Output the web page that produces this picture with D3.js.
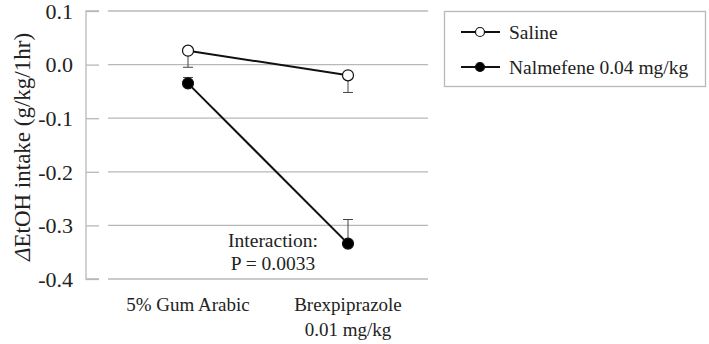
<!DOCTYPE html>
<html><head><meta charset="utf-8">
<script src="https://cdn.jsdelivr.net/npm/d3@7"></script>
<style>body{margin:0;background:#fff}svg{display:block}</style>
</head><body><svg id="c" width="709" height="344"></svg>
<script>
const categories = ["5% Gum Arabic", "Brexpiprazole|0.01 mg/kg"];
const seriesNames = ["Saline", "Nalmefene 0.04 mg/kg"];
const salineMean = [0.026, -0.020];
const salineSem = [0.031, 0.032];
const nalmefeneMean = [-0.035, -0.334];
const nalmefeneSem = [0.011, 0.045];
const yTicks = [0.1, 0.0, -0.1, -0.2, -0.3, -0.4];
const yTitle = "EtOH intake (g/kg/1hr)";
const annotation = ["Interaction:", "P = 0.0033"];

(function () {
const FONT = "'Liberation Serif', 'Times New Roman', Times, 'DejaVu Serif', serif";
const svg = d3.select("#c").attr("font-family", FONT);
const pl = 86, pr = 428, pt = 11, pb = 279;
const y = d3.scaleLinear().domain([-0.4, 0.1]).range([pb, pt]);
const x = d3.scalePoint().domain(categories).range([pl + 102, pr - 80]);
const grey = "#b8b8b8";
const txt = (sel) => sel.attr("font-family", FONT).attr("fill", "#222");

// gridlines
svg.append("g").selectAll("line").data(yTicks).join("line")
  .attr("x1", pl + 22).attr("x2", pr)
  .attr("y1", d => y(d)).attr("y2", d => y(d))
  .attr("stroke", grey).attr("stroke-width", 1.3);
// axis with ticks
const ax = svg.append("g").attr("transform", `translate(${pl},0)`)
  .call(d3.axisRight(y).tickValues(yTicks).tickSize(13).tickFormat(""));
ax.select(".domain").attr("stroke", grey).attr("stroke-width", 1.3).attr("d", `M13,${pt}H0V${pb}H13`);
ax.selectAll(".tick line").attr("stroke", grey).attr("stroke-width", 1.3);
// tick labels
svg.append("g").selectAll("text").data(yTicks).join("text")
  .call(txt)
  .attr("x", 73).attr("y", d => y(d)).attr("dy", "0.35em")
  .attr("text-anchor", "end").attr("font-size", 22)
  .text(d => d3.format(".1f")(d).replace("\u2212", "-"));

// y title
const yt = svg.append("text").call(txt).attr("transform", `translate(30,147) rotate(-90)`)
  .attr("text-anchor", "middle").attr("font-size", 23);
yt.append("tspan").attr("font-style", "italic").text("\u0394");
yt.append("tspan").text(yTitle);

// category labels
categories.forEach(c => {
  const parts = c.split("|");
  const t = svg.append("text").call(txt).attr("text-anchor", "middle").attr("font-size", 19);
  parts.forEach((p, i) => t.append("tspan").attr("x", x(c)).attr("y", 311 + i * 25).text(p));
});

// annotation
annotation.forEach((a, i) => svg.append("text").call(txt).attr("x", 273).attr("y", 247 + i * 23)
  .attr("text-anchor", "middle").attr("font-size", 19.5).text(a));

const series = [
  {name: seriesNames[0], mean: salineMean, sem: salineSem, fill: "#fff", dir: -1},
  {name: seriesNames[1], mean: nalmefeneMean, sem: nalmefeneSem, fill: "#000", dir: 1}
];
const line = d3.line().x((d, i) => x(categories[i])).y(d => y(d));
series.forEach(s => {
  const g = svg.append("g");
  s.mean.forEach((m, i) => {
    const cx = x(categories[i]);
    const end = y(m + s.dir * s.sem[i]);
    g.append("line").attr("x1", cx).attr("x2", cx).attr("y1", y(m)).attr("y2", end).attr("stroke", "#444").attr("stroke-width", 1);
    g.append("line").attr("x1", cx - 5).attr("x2", cx + 5).attr("y1", end).attr("y2", end).attr("stroke", "#444").attr("stroke-width", 1);
  });
  g.append("path").attr("d", line(s.mean)).attr("fill", "none").attr("stroke", "#111").attr("stroke-width", 2);
  g.selectAll("circle").data(s.mean).join("circle")
    .attr("cx", (d, i) => x(categories[i])).attr("cy", d => y(d)).attr("r", 5.5)
    .attr("fill", s.fill).attr("stroke", "#111").attr("stroke-width", 1.2);
});

// legend
svg.append("rect").attr("x", 444.5).attr("y", 11.5).attr("width", 261).attr("height", 75)
  .attr("fill", "#fff").attr("stroke", grey).attr("stroke-width", 1.3);
series.forEach((s, i) => {
  const ly = 32 + i * 35;
  svg.append("line").attr("x1", 461).attr("x2", 500).attr("y1", ly).attr("y2", ly).attr("stroke", "#111").attr("stroke-width", 2);
  svg.append("circle").attr("cx", 480).attr("cy", ly).attr("r", 4.5).attr("fill", s.fill).attr("stroke", "#111").attr("stroke-width", 1.2);
  svg.append("text").call(txt).attr("x", 509).attr("y", ly).attr("dy", "0.35em").attr("font-size", 19.5).text(s.name);
});
})();
</script></body></html>
